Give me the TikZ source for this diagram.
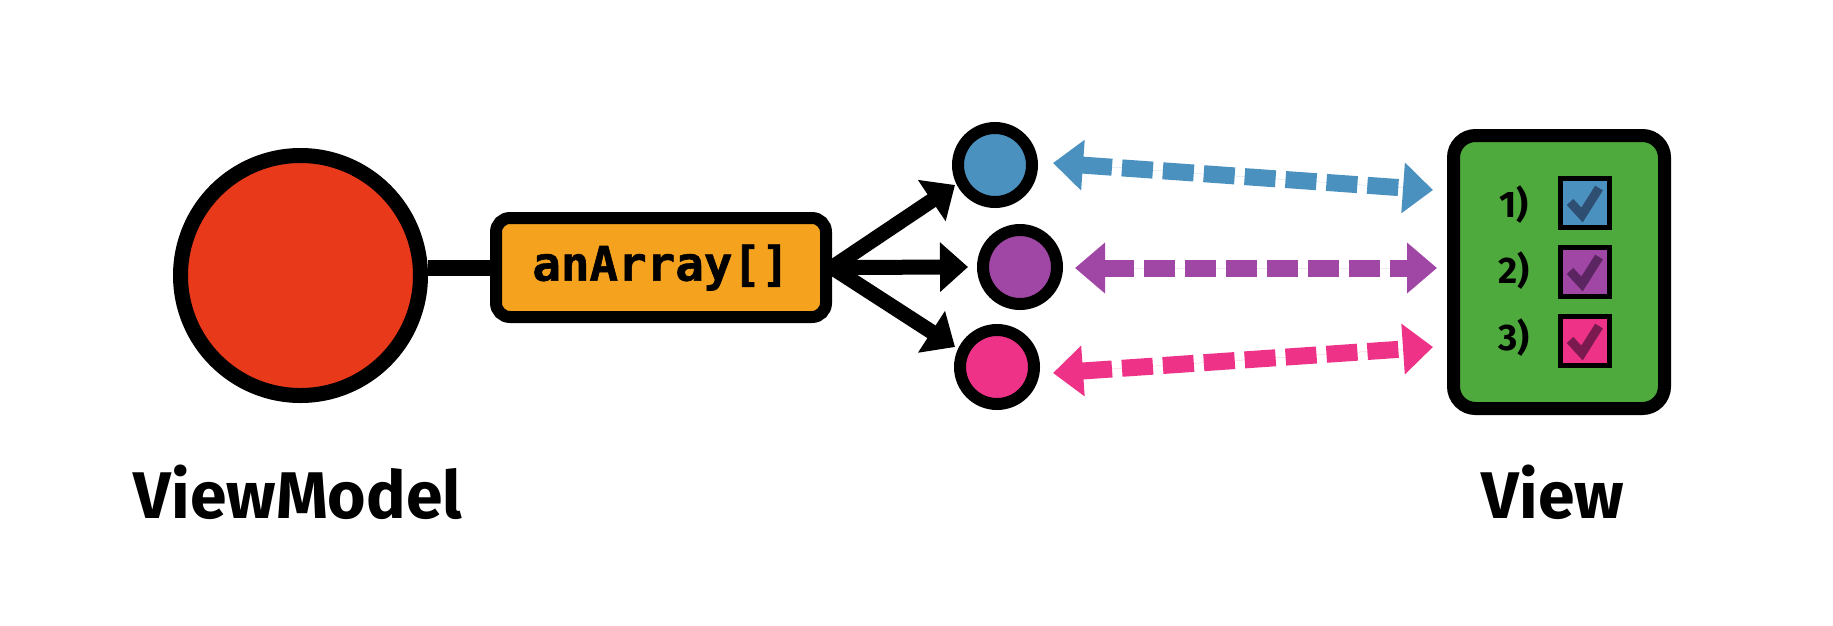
\documentclass[tikz,border=0pt]{standalone}
\usepackage{fontspec}
\newfontfamily\labelfont{Fira Sans}
\newfontfamily\codefont{DejaVu Sans Mono}[BoldFeatures={FakeBold=1.2}]
\usetikzlibrary{arrows.meta,calc}
\definecolor{cred}{HTML}{E8391A}
\definecolor{corange}{HTML}{F5A21E}
\definecolor{cblue}{HTML}{4B91C0}
\definecolor{cpurple}{HTML}{A046A5}
\definecolor{cpink}{HTML}{EE3287}
\definecolor{cgreen}{HTML}{4EAA3C}
\definecolor{cbluedark}{HTML}{2E4E72}
\definecolor{cpurpledark}{HTML}{5A2560}
\definecolor{cpinkdark}{HTML}{7A1A4E}
\begin{document}
\begin{tikzpicture}[x=1pt,y=-1pt,
  vmcircle/.style={circle,draw=black,line width=15pt,fill=cred,minimum size=240pt,inner sep=0pt},
  arrbox/.style={rectangle,rounded corners=14pt,draw=black,line width=12pt,fill=corange,minimum width=330pt,minimum height=99pt,inner sep=0pt,font=\codefont\bfseries\fontsize{47.5}{50}\selectfont},
  dot/.style={circle,draw=black,line width=12pt,minimum size=74pt,inner sep=0pt},
  viewbox/.style={rectangle,rounded corners=22pt,draw=black,line width=13pt,fill=cgreen,minimum width=211pt,minimum height=273pt,inner sep=0pt},
  chk/.style={rectangle,draw=black,line width=5pt,minimum size=49pt,inner sep=0pt},
  checkmark/.style={line width=9pt,miter limit=10},
  num/.style={font=\labelfont\bfseries\fontsize{37}{40}\selectfont,anchor=base,inner sep=0pt},
  biglabel/.style={font=\labelfont\bfseries\fontsize{66}{76}\selectfont,anchor=base,inner sep=0pt},
  blackarrow/.style={line width=15pt,-{Triangle[width=48pt,length=28pt]}},
  dasharrow/.style={line width=17pt,dash pattern=on 31pt off 10pt,{Triangle[width=49pt,length=30pt]}-{Triangle[width=49pt,length=30pt]}}
]
\useasboundingbox (0,0) rectangle (1833,625);

\node[vmcircle] (vm) at (300.5,275.5) {};
\node[arrbox] (arr) at (661,267.5) {anArray[]};
\draw[line width=16pt] (arr.west) -- (arr.west -| vm.east);

\node[dot,fill=cblue] (blue) at (995,165) {};
\node[dot,fill=cpurple] (purple) at (1020,267) {};
\node[dot,fill=cpink] (pink) at (997,367) {};

\draw[blackarrow] (arr.east) -- ($(blue)+(-40,20)$);
\draw[blackarrow] (arr.east) -- ($(purple.west)+(-9,0)$);
\draw[blackarrow] (arr.east) -- ($(pink)+(-42,-20)$);

\node[viewbox] (view) at (1559,272) {};
\node[chk,fill=cblue] (c1) at (1585,203) {};
\node[chk,fill=cpurple] (c2) at (1585,272) {};
\node[chk,fill=cpink] (c3) at (1585,341) {};
\draw[checkmark,draw=cbluedark] ($(c1)+(-15,-1)$) -- ($(c1)+(-3,12)$) -- ($(c1)+(14,-15)$);
\draw[checkmark,draw=cpurpledark] ($(c2)+(-15,-1)$) -- ($(c2)+(-3,12)$) -- ($(c2)+(14,-15)$);
\draw[checkmark,draw=cpinkdark] ($(c3)+(-15,-1)$) -- ($(c3)+(-3,12)$) -- ($(c3)+(14,-15)$);
\node[num] (n1) at (1514,217) {1)};
\node[num] (n2) at (1514,283) {2)};
\node[num] (n3) at (1514,350) {3)};

\draw[dasharrow,draw=cblue,fill=cblue] ($(blue.east)+(15,-2)$) -- ($(view.west)+(-14,-82)$);
\draw[dasharrow,draw=cpurple,fill=cpurple] ($(purple.east)+(12,1)$) -- ($(view.west)+(-10,-4)$);
\draw[dasharrow,draw=cpink,fill=cpink] ($(pink.east)+(13,6)$) -- ($(view.west)+(-14,75)$);

\node[biglabel] (vmlabel) at (298,518) {ViewModel};
\node[biglabel] (viewlabel) at (1553,518) {View};
\end{tikzpicture}
\end{document}
